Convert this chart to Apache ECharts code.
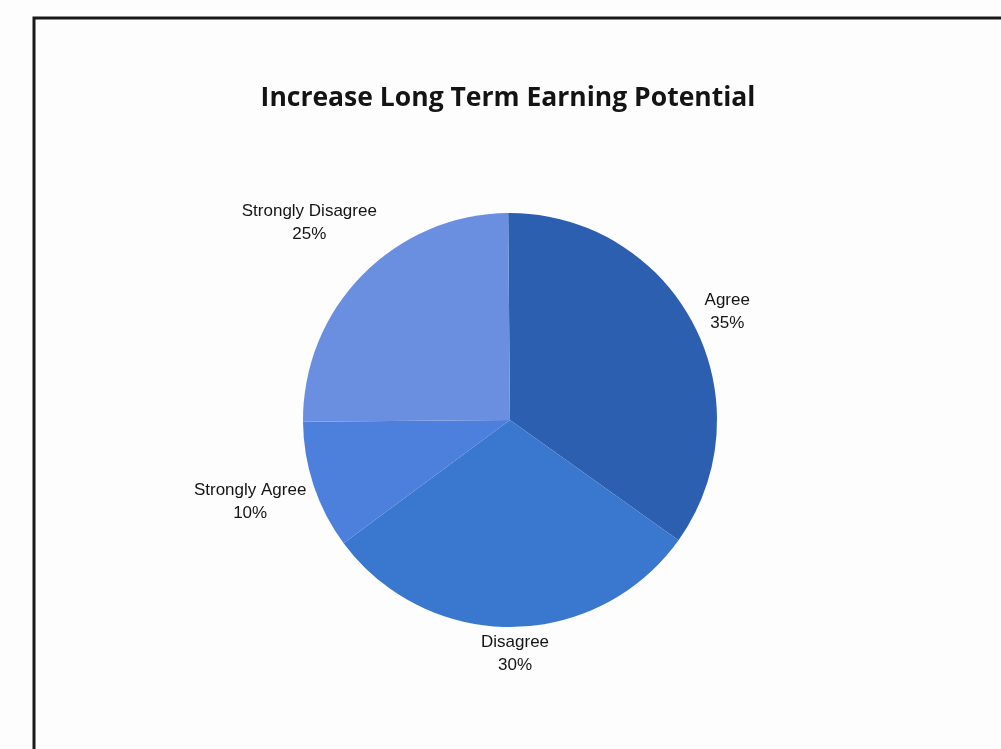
<!DOCTYPE html>
<html>
<head>
<meta charset="utf-8">
<script src="https://cdn.jsdelivr.net/npm/echarts@6/dist/echarts.min.js"></script>
<style>
html,body{margin:0;padding:0;background:#fdfdfd;}
#chart{width:1001px;height:749px;}
</style>
</head>
<body>
<div id="chart"></div>
<script>
const titleText = 'Increase Long Term Earning Potential';
const categories = ['Agree', 'Disagree', 'Strongly Agree', 'Strongly Disagree'];
const values = [35, 30, 10, 25];
const sliceColors = ['#2d5fb0', '#3a78d0', '#4d7fdc', '#6b8fe0'];
// label leader offsets (label placement only; lines hidden)
const leadLen = [27, 27, 52, 75];
const leadLen2 = [-15, -33, -44, -70];

const chart = echarts.init(document.getElementById('chart'), null, {renderer: 'canvas'});
chart.setOption({
  backgroundColor: '#fdfdfd',
  animation: false,
  title: {
    text: titleText,
    left: 503, top: 80, textAlign: 'center',
    textStyle: {fontFamily: 'Open Sans', fontWeight: 'bold', fontSize: 26.5, color: '#141414'}
  },
  graphic: [{
    type: 'rect',
    shape: {x: 34, y: 18, width: 1000, height: 760},
    style: {fill: 'none', stroke: '#1a1a1a', lineWidth: 3}
  }],
  series: [{
    type: 'pie',
    center: [510, 420],
    radius: [0, 207],
    startAngle: 90.5,
    clockwise: true,
    avoidLabelOverlap: false,
    data: categories.map((c, i) => ({
      name: c, value: values[i],
      itemStyle: {color: sliceColors[i]},
      labelLine: {show: false, length: leadLen[i], length2: leadLen2[i]}
    })),
    label: {
      show: true,
      position: 'outside',
      formatter: p => '{a|' + p.name + '}\n{a|' + p.value + '%}',
      distanceToLabelLine: 2,
      rich: {
        a: {fontFamily: 'Liberation Sans', fontSize: 17, color: '#141414', align: 'center', lineHeight: 23}
      }
    },
    labelLine: {show: false},
    emphasis: {disabled: true}
  }]
});
</script>
</body>
</html>
